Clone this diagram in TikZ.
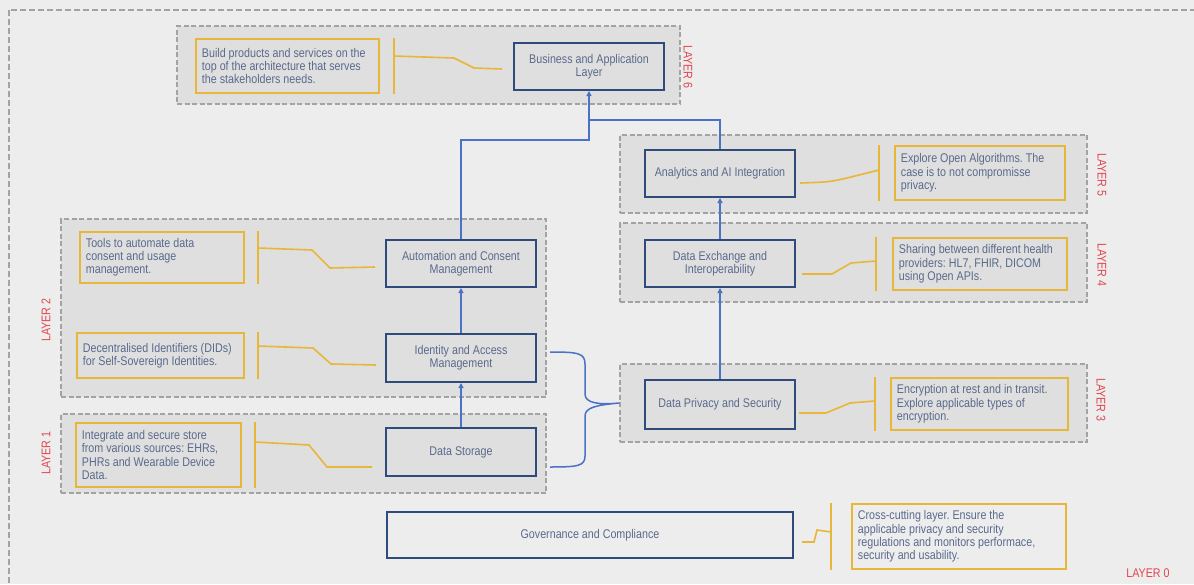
\documentclass[tikz,border=0pt]{standalone}
\usepackage{fontspec}
\setmainfont{Liberation Sans}[FakeStretch=0.85]
\usepackage{xcolor}
\usepackage{tikz}
\usetikzlibrary{positioning}
\usetikzlibrary{calc}
\usetikzlibrary{arrows.meta}
\frenchspacing

\definecolor{bggray}{HTML}{EDEDED}
\definecolor{layerfill}{HTML}{DFDFDF}
\definecolor{dashgray}{HTML}{A3A3A3}
\definecolor{navy}{HTML}{2F4B7C}
\definecolor{linkblue}{HTML}{4A72C6}
\definecolor{gold}{HTML}{E8B73A}
\definecolor{tagred}{HTML}{E0464E}
\definecolor{slate}{HTML}{5A6A8C}

\tikzset{
  frame/.style={draw=dashgray, line width=2pt, dash pattern=on 6pt off 3pt},
  layerbox/.style={draw=dashgray, fill=layerfill, line width=1.5pt, dash pattern=on 5pt off 2.5pt, inner sep=0pt},
  block/.style={draw=navy, line width=2pt, text=slate, align=center, minimum width=150pt, minimum height=47pt, inner sep=2pt},
  note/.style={draw=gold, line width=1.8pt, text=slate, align=flush left, anchor=north west, inner xsep=6pt, inner ysep=0pt},
  link/.style={draw=linkblue, line width=1.5pt},
  arr/.style={link, -{Triangle[length=5pt,width=5pt]}},
  tie/.style={draw=gold, line width=1.6pt},
  tag/.style={text=tagred, inner sep=0pt}
}

\begin{document}
\begin{tikzpicture}[x=1pt, y=-1pt, font=\fontsize{12.6}{13.3}\selectfont]
    \useasboundingbox (0,0) rectangle (1194,584);
    \fill[bggray] (0,0) rectangle (1194,584);
    \begin{scope}
        \clip (0,0) rectangle (1194,584);
        \draw[frame] (9,10) rectangle (1230,620);
    \end{scope}

    \node[layerbox, minimum width=503pt, minimum height=78pt] (L6) at (428.5,65) {};
    \node[layerbox, minimum width=467pt, minimum height=78pt] (L5) at (853.5,174) {};
    \node[layerbox, minimum width=467pt, minimum height=79pt] (L4) at (853.5,262.5) {};
    \node[layerbox, minimum width=467pt, minimum height=78pt] (L3) at (853.5,403) {};
    \node[layerbox, minimum width=485pt, minimum height=178pt] (L2) at (303.5,308) {};
    \node[layerbox, minimum width=485pt, minimum height=79pt] (L1) at (303.5,453.5) {};

    \node[tag, rotate=-90] (tag6) at (688,67) {LAYER 6};
    \node[tag, rotate=-90] (tag5) at (1102,175) {LAYER 5};
    \node[tag, rotate=-90] (tag4) at (1102,265) {LAYER 4};
    \node[tag, rotate=-90] (tag3) at (1101,400) {LAYER 3};
    \node[tag, rotate=90] (tag2) at (46,320) {LAYER 2};
    \node[tag, rotate=90] (tag1) at (46,453) {LAYER 1};
    \node[tag] (tag0) at (1148,573) {LAYER 0};

    \node[block] (biz) at (589,66.5) {Business and Application\\Layer};
    \node[block] (ana) at (720,173.5) {Analytics and AI Integration};
    \node[block] (dex) at (720,263.5) {Data Exchange and\\Interoperability};
    \node[block, minimum height=49pt] (dps) at (720,404.5) {Data Privacy and Security};
    \node[block] (acm) at (461,263.5) {Automation and Consent\\Management};
    \node[block, minimum height=48pt] (iam) at (461,358) {Identity and Access\\Management};
    \node[block, minimum height=48pt] (dst) at (461,452) {Data Storage};
    \node[block, minimum width=406pt, minimum height=46pt] (gov) at (590,535) {Governance and Compliance};

    \node[note, text width=171pt, minimum height=54pt] (nbiz) at (195,38) {Build products and services on the\\top of the architecture that serves\\the stakeholders needs.};
    \node[note, text width=158pt, minimum height=54pt] (nana) at (894,145) {Explore Open Algorithms. The\\case is to not compromisse\\privacy.};
    \node[note, text width=162pt, minimum height=52pt] (ndex) at (892,237) {Sharing between different health\\providers: HL7, FHIR, DICOM\\using Open APIs.};
    \node[note, text width=165pt, minimum height=52pt] (ndps) at (890,377) {Encryption at rest and in transit.\\Explore applicable types of\\encryption.};
    \node[note, text width=152pt, minimum height=51pt] (nacm) at (79,231) {Tools to automate data\\consent and usage\\management.};
    \node[note, text width=155pt, minimum height=45pt] (niam) at (76,332) {Decentralised Identifiers (DIDs)\\for Self-Sovereign Identities.};
    \node[note, text width=153pt, minimum height=64pt] (ndst) at (75,422) {Integrate and secure store\\from various sources: EHRs,\\PHRs and Wearable Device\\Data.};
    \node[note, text width=202pt, minimum height=65pt] (ngov) at (851,503) {Cross-cutting layer. Ensure the\\applicable privacy and security\\regulations and monitors performace,\\security and usability.};

    \draw[arr] (iam) -- (acm);
    \draw[arr] (dst) -- (iam);
    \draw[arr] (dex) -- (ana);
    \draw[arr] (dps) -- (dex);
    \draw[arr] (acm.north) -- (acm.north |- 0,140) -- (biz.south |- 0,140) -- (biz.south);
    \draw[link] (ana.north) -- (ana.north |- 0,120) -- (biz.south |- 0,120);
    \draw[link] ($(iam.east)+(13,-6)$) .. controls (578,352) and (585,353) .. (585,364) -- (585,394)
        .. controls (585,403) and (598,405) .. (L3.west)
        .. controls (598,405) and (585,407) .. (585,416) -- (585,456)
        .. controls (585,466) and (578,467) .. ($(dst.east)+(13,15)$);

    \coordinate (tbiz) at (394,56);
    \coordinate (tacm) at (258,248);
    \coordinate (tiam) at (258,346);
    \coordinate (tdst) at (255,442);
    \coordinate (tana) at (879,170);
    \coordinate (tdex) at (876,261);
    \coordinate (tdps) at (875,401);
    \coordinate (tgov) at (831,532);

    \draw[tie] (tbiz |- nbiz.north) -- (tbiz |- nbiz.south);
    \draw[tie] (tacm |- nacm.north) -- (tacm |- nacm.south);
    \draw[tie] (tiam |- niam.north) -- (tiam |- niam.south);
    \draw[tie] (tdst |- ndst.north) -- (tdst |- ndst.south);
    \draw[tie] (tana |- nana.north) -- (tana |- nana.south);
    \draw[tie] (tdex |- ndex.north) -- (tdex |- ndex.south);
    \draw[tie] (tdps |- ndps.north) -- (tdps |- ndps.south);
    \draw[tie] (tgov |- ngov.north) -- (tgov |- ngov.south);

    \draw[tie] (tbiz) -- (454,58) -- (474,68) -- ($(biz.west)+(-11,2.5)$);
    \draw[tie] (tacm) -- (312,250) -- (330,268) -- ($(acm.west)+(-10,3.5)$);
    \draw[tie] (tiam) -- (313,348) -- (331,364) -- ($(iam.west)+(-9,7)$);
    \draw[tie] (tdst) -- (309,445) -- (327,467) -- ($(dst.west)+(-13,15)$);
    \draw[tie] ($(ana.east)+(4,9.5)$) .. controls (830,182) .. (851,177) -- (tana);
    \draw[tie] ($(dex.east)+(6,10.5)$) -- (832,274) -- (851,263) -- (tdex);
    \draw[tie] ($(dps.east)+(3,8.5)$) -- (826,413) -- (850,403) -- (tdps);
    \draw[tie] ($(gov.east)+(8,7)$) -- (814,542) -- (817,530) -- (tgov);
\end{tikzpicture}
\end{document}
